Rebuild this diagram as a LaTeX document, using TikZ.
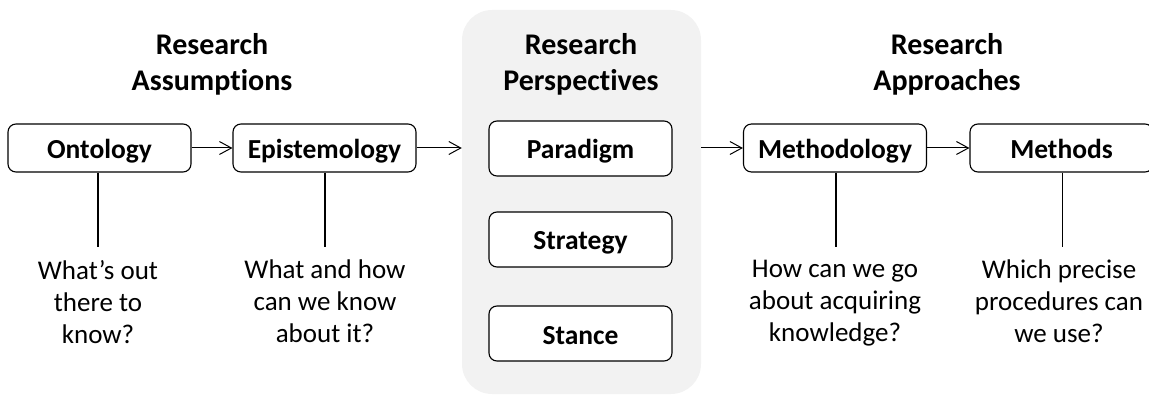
\documentclass[tikz,border=0pt]{standalone}
\usepackage{fontspec}
\setmainfont{Carlito}[RawFeature={-liga}]
\usetikzlibrary{arrows.meta}
\definecolor{panelgrey}{HTML}{F2F2F2}
\tikzset{
  box/.style={draw=black, line width=1.1pt, rounded corners=8pt, fill=white,
    minimum width=183pt, minimum height=48pt, inner sep=0pt,
    text height=24pt, text depth=3pt,
    font=\fontsize{27.5}{33}\selectfont\bfseries},
  pbox/.style={box, minimum height=55pt},
  head/.style={align=center, inner sep=0pt, font=\fontsize{30}{36}\selectfont\bfseries},
  question/.style={align=center, inner sep=0pt, anchor=north, font=\fontsize{27}{32}\selectfont},
  flow/.style={line width=1pt, -{Straight Barb[length=12pt,width=13pt,line width=1pt]}},
  stem/.style={line width=2pt},
  thinstem/.style={line width=1pt}
}
\begin{document}
\begin{tikzpicture}[x=1pt,y=-1pt]
\useasboundingbox (0,0) rectangle (1149,398);
% panel
\node[fill=panelgrey, rounded corners=30pt, minimum width=239pt, minimum height=384pt, inner sep=0pt] (panel) at (581.5,202) {};
% headers
\node[head] (h1) at (212,64) {Research\\Assumptions};
\node[head] (h2) at (581,64) {Research\\Perspectives};
\node[head] (h3) at (947,64) {Research\\Approaches};
% boxes
\node[box] (onto) at (99.5,148) {Ontology};
\node[box] (epis) at (324.5,148) {Epistemology};
\node[pbox] (para) at (580.5,148.5) {Paradigm};
\node[pbox] (stra) at (580.5,239.5) {Strategy};
\node[pbox] (stan) at (580.5,333.5) {Stance};
\node[box] (meth) at (835,148) {Methodology};
\node[box] (mets) at (1061.5,148) {Methods};
% arrows
\draw[flow] (onto.east) -- (epis.west);
\draw[flow] (epis.east) -- (panel.west |- epis.east);
\draw[flow] (panel.east |- meth.west) -- (meth.west);
\draw[flow] (meth.east) -- (mets.west);
% questions
\node[question] (q1) at (98,260) {What’s out\\there to\\know?};
\node[question] (q2) at (325,260) {What and how\\can we know\\about it?};
\node[question] (q3) at (835,260) {How can we go\\about acquiring\\knowledge?};
\node[question] (q4) at (1059,260) {Which precise\\procedures can\\we use?};
% stems
\coordinate (s1) at (98,247);
\coordinate (s2) at (325,247);
\coordinate (s3) at (836,247);
\coordinate (s4) at (1062,247);
\draw[stem] (onto.south -| s1) -- (s1);
\draw[stem] (epis.south -| s2) -- (s2);
\draw[stem] (meth.south -| s3) -- (s3);
\draw[thinstem] (mets.south -| s4) -- (s4);
\end{tikzpicture}
\end{document}
